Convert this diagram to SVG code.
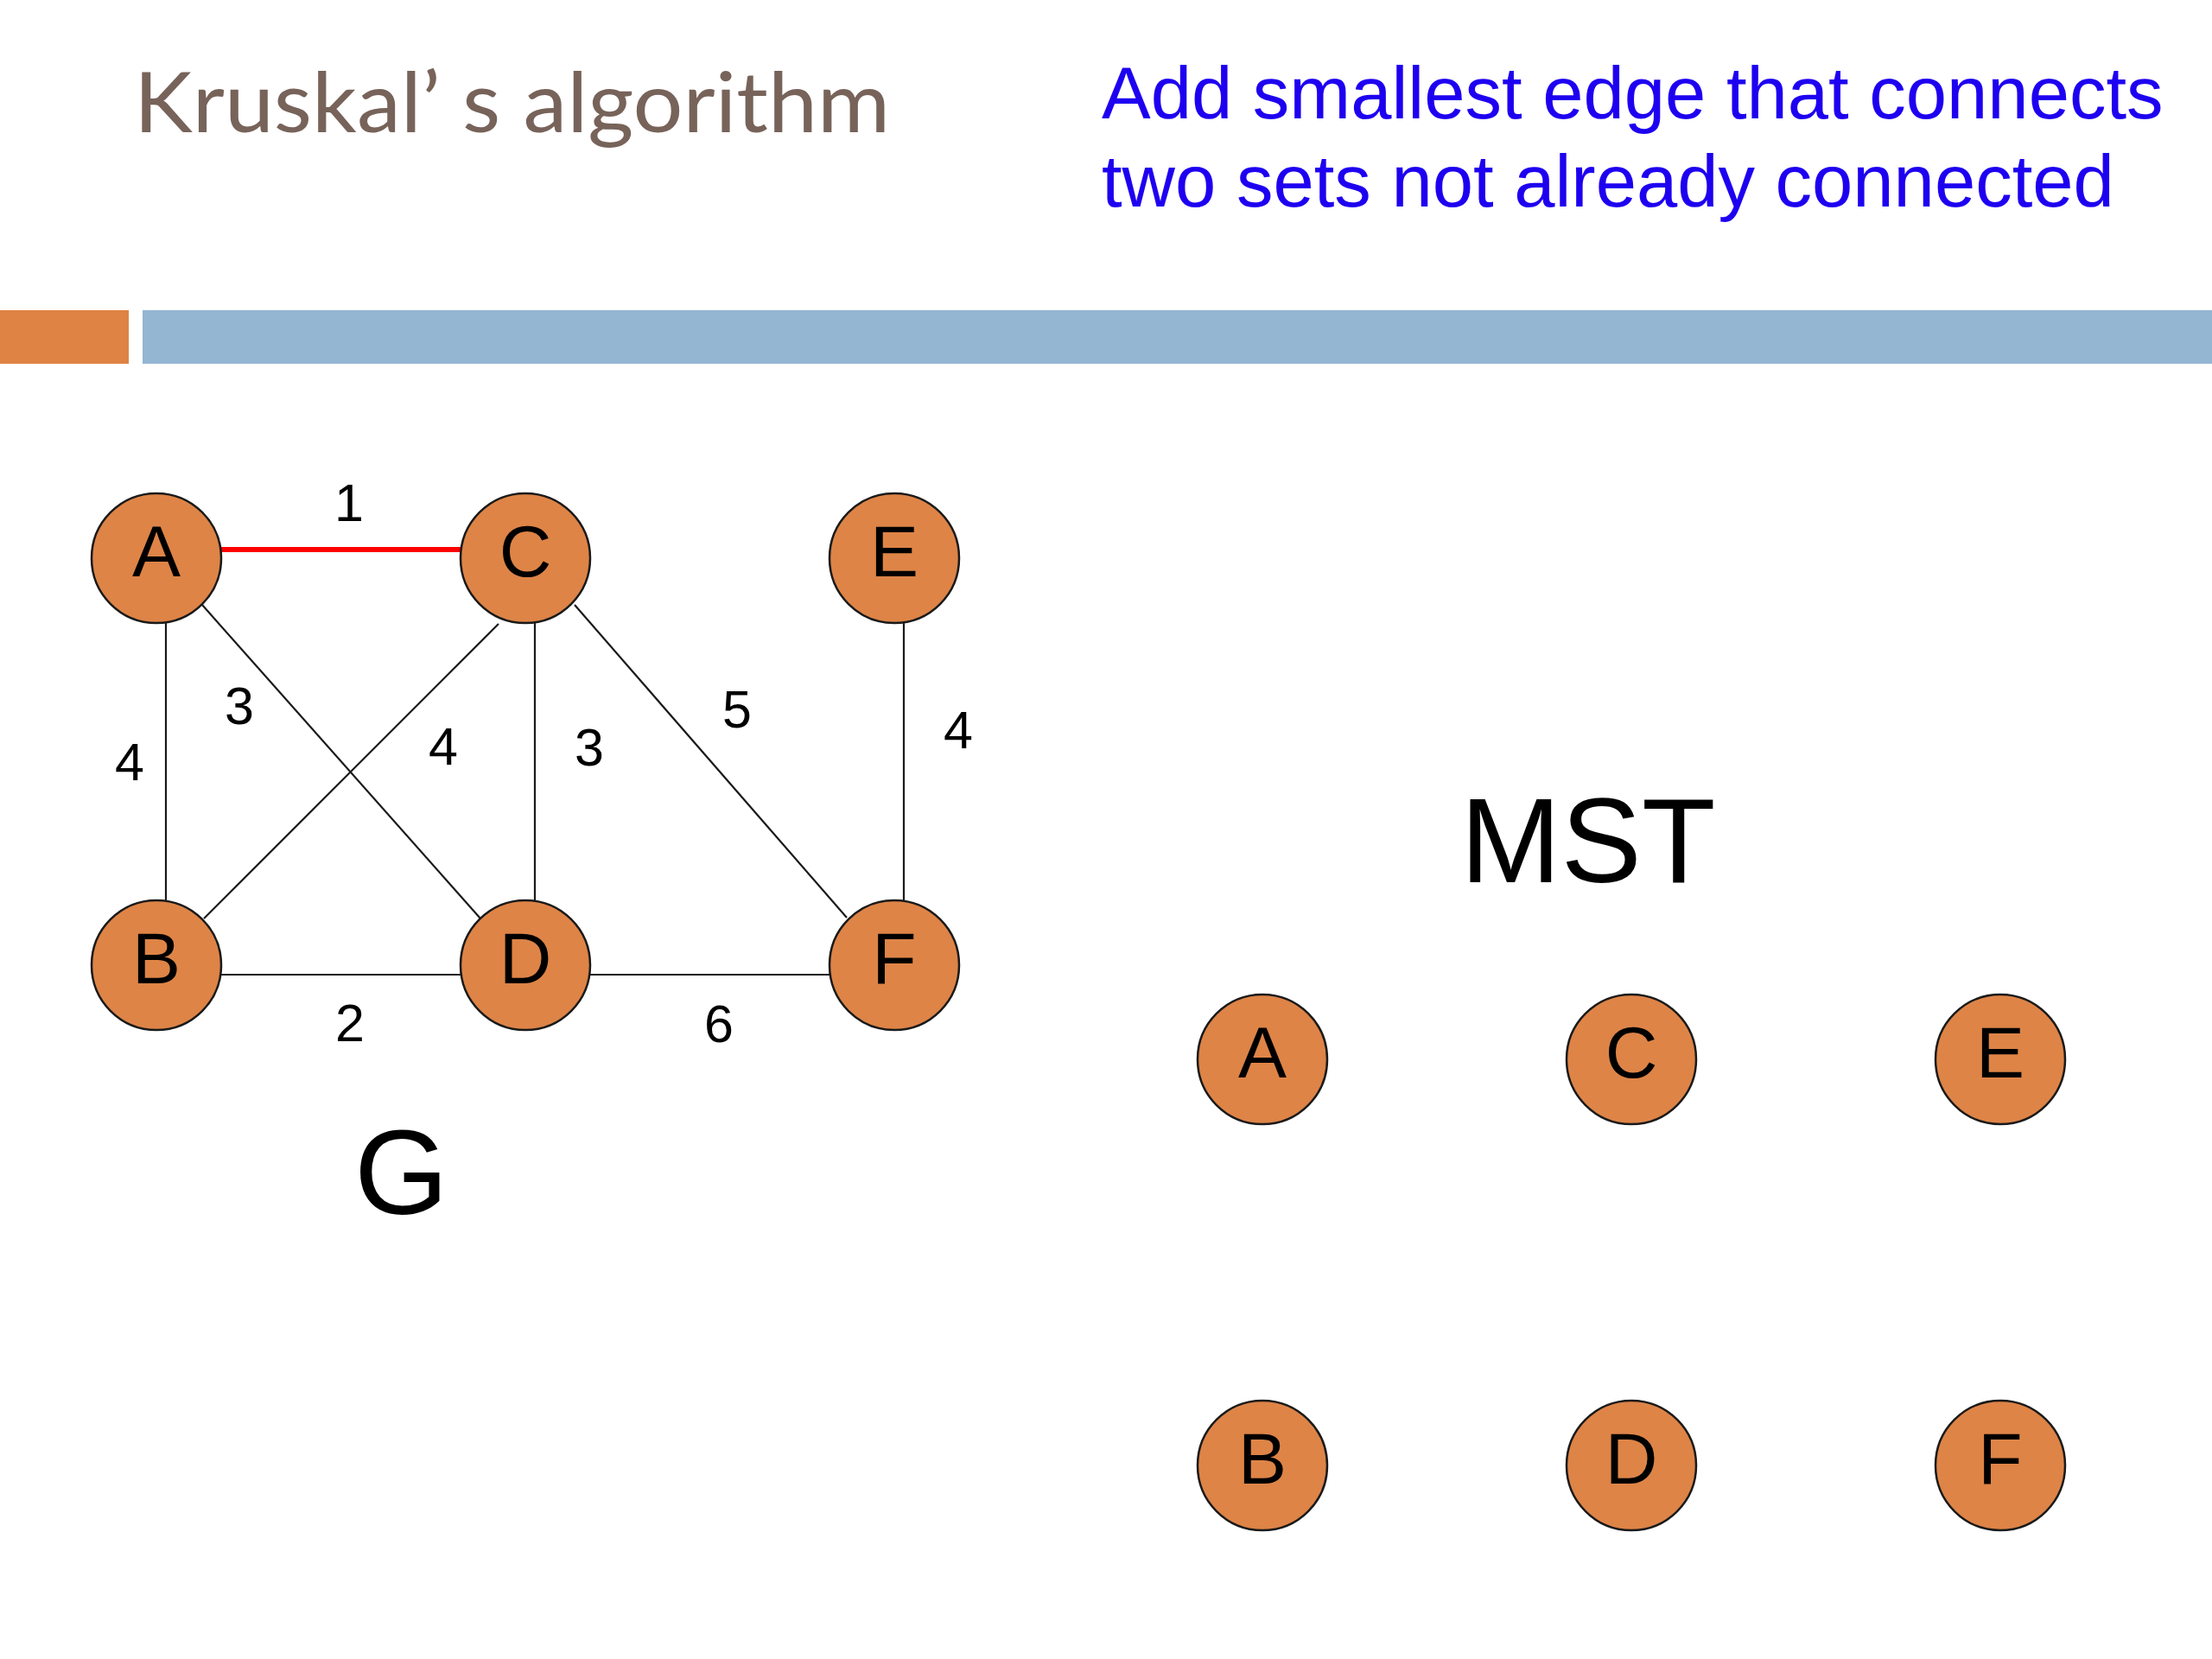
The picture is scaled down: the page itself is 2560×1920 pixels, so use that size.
<svg xmlns="http://www.w3.org/2000/svg" width="2560" height="1920" viewBox="0 0 2560 1920">
<style>
.node circle{fill:#DE8447;stroke:#1a1a1a;stroke-width:2.5}
.node text{font-family:"Liberation Sans",Arial,sans-serif;font-size:84px;fill:#000;text-anchor:middle}
.edge{stroke:#1a1a1a;stroke-width:2.2;fill:none}
.w{font-family:"Liberation Sans",Arial,sans-serif;font-size:61px;fill:#000;text-anchor:middle}
.big{font-family:"Liberation Sans",Arial,sans-serif;font-size:140px;fill:#000}
.blue{font-family:"Liberation Sans",Arial,sans-serif;font-size:85px;fill:#1E00F0}
</style>
<rect width="2560" height="1920" fill="#fff"/>
<text x="155" y="153" font-family="Lato,'Open Sans',sans-serif" font-size="96" fill="#776359" textLength="875" lengthAdjust="spacingAndGlyphs">Kruskal’ s algorithm</text>
<text class="blue" x="1275" y="137">Add smallest edge that connects</text>
<text class="blue" x="1275" y="239">two sets not already connected</text>
<rect x="0" y="359" width="149" height="62" fill="#DE8344"/>
<rect x="165" y="359" width="2395" height="62" fill="#94B6D3"/>
<g id="connectors">
<line x1="255" y1="636" x2="534" y2="636" stroke="#FF0000" stroke-width="6"/>
<line class="edge" x1="192" y1="721" x2="192" y2="1043"/>
<line class="edge" x1="234" y1="700" x2="556" y2="1063"/>
<line class="edge" x1="577" y1="722" x2="236" y2="1063"/>
<line class="edge" x1="619" y1="721" x2="619" y2="1043"/>
<line class="edge" x1="665" y1="700" x2="980" y2="1062"/>
<line class="edge" x1="1046" y1="721" x2="1046" y2="1043"/>
<line class="edge" x1="256" y1="1128" x2="534" y2="1128"/>
<line class="edge" x1="683" y1="1128" x2="961" y2="1128"/>
<text class="w" x="404" y="603">1</text>
<text class="w" x="150" y="903">4</text>
<text class="w" x="277" y="838">3</text>
<text class="w" x="513" y="885">4</text>
<text class="w" x="682" y="886">3</text>
<text class="w" x="853" y="842">5</text>
<text class="w" x="1109" y="866">4</text>
<text class="w" x="405" y="1205">2</text>
<text class="w" x="832" y="1206">6</text>
</g>
<g id="gA" class="node"><circle cx="181" cy="646" r="75"/><text x="181" y="667">A</text></g>
<g id="gC" class="node"><circle cx="608" cy="646" r="75"/><text x="608" y="667">C</text></g>
<g id="gE" class="node"><circle cx="1035" cy="646" r="75"/><text x="1035" y="667">E</text></g>
<g id="gB" class="node"><circle cx="181" cy="1117" r="75"/><text x="181" y="1138">B</text></g>
<g id="gD" class="node"><circle cx="608" cy="1117" r="75"/><text x="608" y="1138">D</text></g>
<g id="gF" class="node"><circle cx="1035" cy="1117" r="75"/><text x="1035" y="1138">F</text></g>
<text class="big" x="410" y="1405">G</text>
<text class="big" x="1690" y="1021">MST</text>
<g id="mA" class="node"><circle cx="1461" cy="1226" r="75"/><text x="1461" y="1247">A</text></g>
<g id="mC" class="node"><circle cx="1888" cy="1226" r="75"/><text x="1888" y="1247">C</text></g>
<g id="mE" class="node"><circle cx="2315" cy="1226" r="75"/><text x="2315" y="1247">E</text></g>
<g id="mB" class="node"><circle cx="1461" cy="1696" r="75"/><text x="1461" y="1717">B</text></g>
<g id="mD" class="node"><circle cx="1888" cy="1696" r="75"/><text x="1888" y="1717">D</text></g>
<g id="mF" class="node"><circle cx="2315" cy="1696" r="75"/><text x="2315" y="1717">F</text></g>
</svg>
